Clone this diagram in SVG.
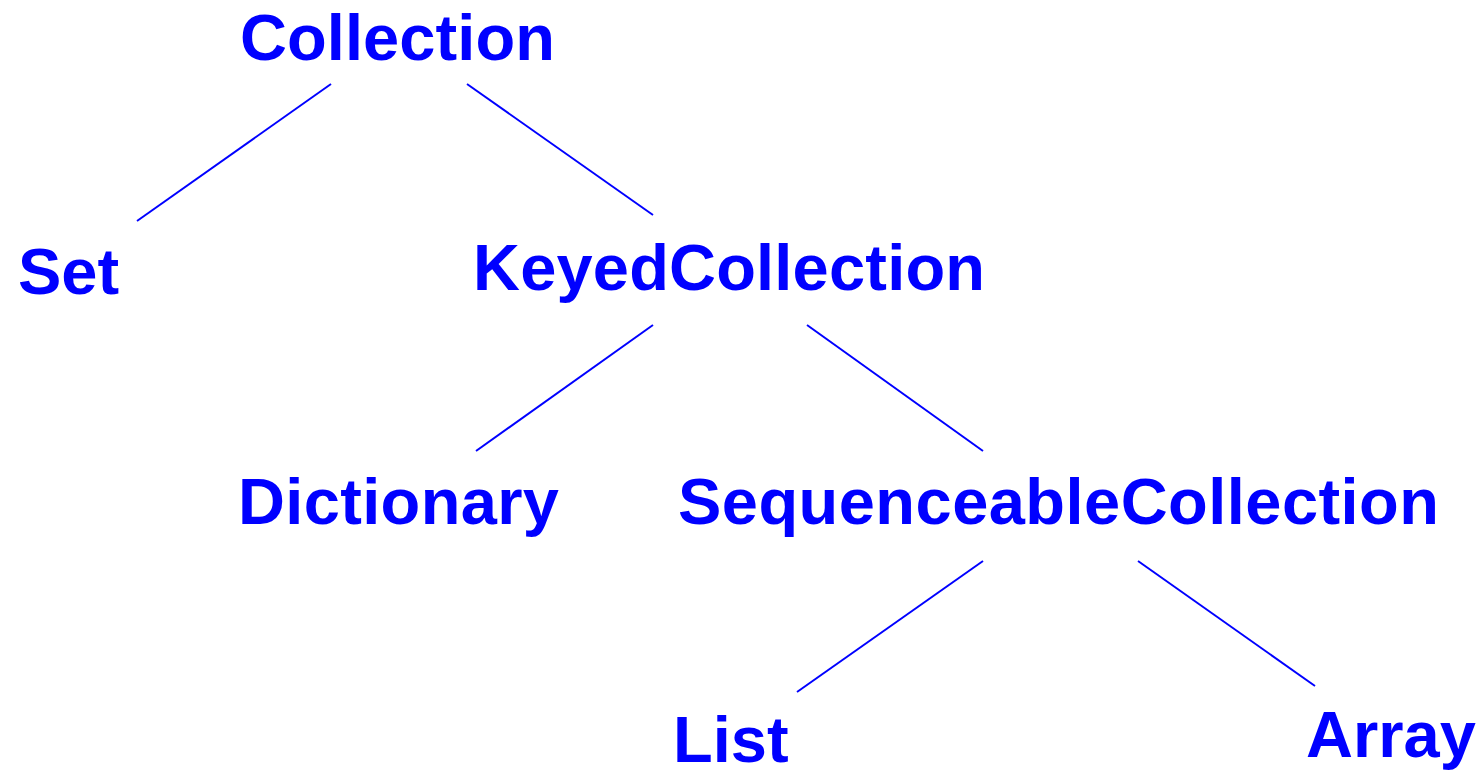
<svg xmlns="http://www.w3.org/2000/svg" width="1482" height="771" viewBox="0 0 1482 771">
<style>
.t{font-family:"Liberation Sans",Arial,sans-serif;font-weight:bold;font-size:65px;fill:#0000ff}
.c line{stroke:#0000ff;stroke-width:2}
</style>
<rect width="1482" height="771" fill="#ffffff"/>
<g class="c" id="connectors">
<line x1="331" y1="84" x2="137" y2="221"/>
<line x1="467" y1="84" x2="653" y2="215"/>
<line x1="653" y1="325" x2="476" y2="451"/>
<line x1="807" y1="325" x2="983" y2="451"/>
<line x1="983" y1="561" x2="797" y2="692"/>
<line x1="1138" y1="561" x2="1315" y2="686"/>
</g>
<g id="collection"><text class="t" x="240" y="60" textLength="315" lengthAdjust="spacing">Collection</text></g>
<g id="set"><text class="t" x="18" y="294">Set</text></g>
<g id="keyed"><text class="t" x="473" y="290" textLength="512" lengthAdjust="spacing">KeyedCollection</text></g>
<g id="dictionary"><text class="t" x="238" y="524" textLength="321" lengthAdjust="spacing">Dictionary</text></g>
<g id="sequenceable"><text class="t" x="678" y="524" textLength="761" lengthAdjust="spacing">SequenceableCollection</text></g>
<g id="list"><text class="t" x="673" y="762">List</text></g>
<g id="array"><text class="t" x="1306" y="757">Array</text></g>
</svg>
